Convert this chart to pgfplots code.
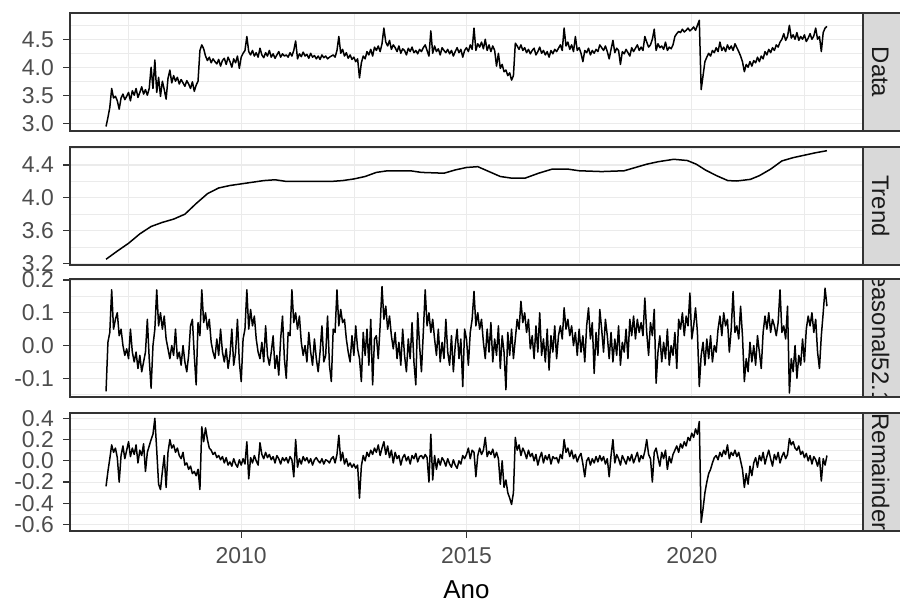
\documentclass[border=0pt]{standalone}
\usepackage{fontspec}
\setmainfont{Liberation Sans}
\usepackage{pgfplots}
\usepackage{pgfplotstable}
\pgfplotsset{compat=1.18}
\definecolor{grey10}{HTML}{1A1A1A}
\definecolor{grey20}{HTML}{333333}
\definecolor{grey30}{HTML}{4D4D4D}
\definecolor{grey85}{HTML}{D9D9D9}
\definecolor{grey92}{HTML}{EBEBEB}

% Data (semi-monthly readings, 2007.0 to 2023.0)
\pgfplotstableread[header=false,row sep=\\]{
2.94\\3.10\\3.28\\3.62\\3.45\\3.48\\3.40\\3.25\\3.45\\3.52\\3.42\\3.48\\3.55\\3.40\\3.58\\3.50\\3.62\\3.46\\3.55\\3.65\\3.52\\3.60\\3.50\\3.62\\%
4.00\\3.62\\4.13\\3.55\\3.82\\3.48\\3.75\\3.60\\3.43\\3.80\\3.95\\3.72\\3.85\\3.75\\3.82\\3.70\\3.78\\3.72\\3.66\\3.76\\3.70\\3.62\\3.74\\3.57\\%
3.68\\3.75\\4.30\\4.40\\4.33\\4.20\\4.12\\4.18\\4.08\\4.15\\4.10\\4.06\\4.14\\4.02\\4.12\\4.16\\4.05\\4.18\\4.10\\4.00\\4.15\\4.08\\4.20\\3.98\\%
4.18\\4.25\\4.30\\4.55\\4.28\\4.22\\4.30\\4.20\\4.26\\4.18\\4.34\\4.22\\4.17\\4.26\\4.20\\4.30\\4.18\\4.24\\4.16\\4.22\\4.28\\4.18\\4.24\\4.20\\%
4.22\\4.18\\4.26\\4.20\\4.30\\4.47\\4.15\\4.24\\4.19\\4.27\\4.20\\4.23\\4.16\\4.25\\4.18\\4.21\\4.15\\4.20\\4.14\\4.22\\4.17\\4.20\\4.15\\4.18\\%
4.20\\4.22\\4.18\\4.30\\4.55\\4.25\\4.32\\4.20\\4.26\\4.16\\4.22\\4.14\\4.18\\4.10\\4.15\\3.81\\4.08\\4.20\\4.15\\4.28\\4.22\\4.32\\4.20\\4.36\\%
4.30\\4.38\\4.28\\4.42\\4.70\\4.45\\4.38\\4.48\\4.32\\4.40\\4.35\\4.28\\4.38\\4.25\\4.33\\4.30\\4.22\\4.34\\4.28\\4.36\\4.26\\4.30\\4.24\\4.32\\%
4.28\\4.35\\4.40\\4.30\\4.20\\4.65\\4.25\\4.38\\4.28\\4.33\\4.22\\4.35\\4.30\\4.26\\4.32\\4.24\\4.30\\4.20\\4.28\\4.35\\4.26\\4.32\\4.18\\4.30\\%
4.35\\4.28\\4.40\\4.32\\4.70\\4.30\\4.42\\4.36\\4.45\\4.33\\4.50\\4.30\\4.40\\4.28\\4.38\\4.30\\4.02\\4.25\\3.98\\4.05\\3.92\\3.95\\3.85\\3.90\\%
3.77\\3.85\\4.43\\4.38\\4.32\\4.40\\4.30\\4.35\\4.26\\4.32\\4.24\\4.30\\4.34\\4.22\\4.28\\4.36\\4.25\\4.30\\4.22\\4.28\\4.18\\4.30\\4.24\\4.32\\%
4.28\\4.34\\4.40\\4.30\\4.70\\4.38\\4.45\\4.32\\4.40\\4.28\\4.55\\4.30\\4.35\\4.25\\4.10\\4.30\\4.26\\4.34\\4.22\\4.30\\4.25\\4.32\\4.28\\4.40\\%
4.35\\4.30\\4.38\\4.28\\4.15\\4.32\\4.48\\4.26\\4.34\\4.30\\4.05\\4.28\\4.24\\4.32\\4.26\\4.20\\4.35\\4.28\\4.34\\4.40\\4.30\\4.36\\4.30\\4.55\\%
4.45\\4.36\\4.40\\4.50\\4.68\\4.30\\4.42\\4.35\\4.38\\4.32\\4.45\\4.30\\4.36\\4.33\\4.40\\4.55\\4.60\\4.64\\4.62\\4.68\\4.63\\4.66\\4.70\\4.65\\%
4.68\\4.72\\4.66\\4.75\\4.84\\3.60\\3.85\\4.10\\4.18\\4.25\\4.20\\4.30\\4.26\\4.35\\4.28\\4.45\\4.30\\4.36\\4.28\\4.40\\4.32\\4.38\\4.30\\4.42\\%
4.35\\4.28\\4.20\\4.10\\3.92\\4.05\\4.00\\4.10\\4.02\\4.12\\4.08\\4.18\\4.10\\4.20\\4.15\\4.28\\4.22\\4.32\\4.26\\4.35\\4.30\\4.40\\4.36\\4.45\\%
4.50\\4.60\\4.48\\4.55\\4.75\\4.52\\4.58\\4.50\\4.62\\4.48\\4.55\\4.50\\4.58\\4.46\\4.52\\4.60\\4.50\\4.56\\4.70\\4.50\\4.55\\4.28\\4.62\\4.70\\%
4.73\\%
}\dataD

% Seasonal52.18
\pgfplotstableread[header=false,row sep=\\]{
-0.14\\0.01\\0.04\\0.17\\0.05\\0.08\\0.10\\0.03\\0.05\\0.00\\-0.03\\-0.01\\-0.04\\0.05\\-0.02\\-0.05\\-0.02\\-0.07\\-0.03\\-0.08\\-0.05\\-0.02\\0.08\\-0.04\\%
-0.13\\0.00\\0.05\\0.17\\0.06\\0.10\\0.05\\0.09\\0.02\\-0.01\\-0.04\\0.00\\-0.03\\0.05\\-0.04\\-0.02\\-0.06\\0.00\\-0.05\\-0.08\\-0.03\\0.06\\0.08\\-0.03\\%
-0.12\\0.07\\0.03\\0.17\\0.07\\0.10\\0.05\\0.08\\0.01\\-0.02\\-0.04\\0.02\\-0.03\\0.05\\-0.02\\-0.05\\-0.01\\-0.07\\-0.03\\0.05\\-0.06\\-0.02\\0.08\\-0.05\\%
-0.11\\0.02\\0.05\\0.17\\0.05\\0.11\\0.06\\0.09\\0.02\\-0.02\\-0.04\\0.01\\-0.05\\0.06\\-0.03\\-0.06\\-0.02\\0.03\\-0.07\\-0.03\\-0.09\\0.02\\0.09\\-0.04\\%
-0.10\\0.04\\0.03\\0.17\\0.07\\0.10\\0.05\\0.09\\0.01\\-0.03\\0.00\\-0.05\\0.04\\-0.02\\-0.06\\0.02\\-0.04\\-0.08\\-0.02\\0.06\\-0.05\\-0.03\\0.09\\-0.06\\%
-0.11\\0.05\\0.04\\0.17\\0.06\\0.11\\0.07\\0.08\\0.02\\-0.02\\-0.05\\0.03\\-0.03\\0.06\\-0.01\\-0.04\\-0.11\\0.04\\-0.03\\0.05\\-0.06\\0.08\\-0.12\\0.02\\%
0.03\\-0.04\\0.06\\0.18\\0.08\\0.12\\0.05\\0.09\\0.03\\-0.01\\0.04\\-0.04\\0.01\\-0.06\\0.05\\-0.03\\-0.08\\0.02\\-0.04\\0.07\\-0.05\\-0.12\\0.10\\0.00\\%
-0.08\\0.04\\0.17\\0.06\\0.10\\0.04\\0.08\\0.02\\-0.03\\0.05\\-0.05\\0.01\\-0.04\\0.08\\-0.02\\-0.06\\0.03\\-0.08\\0.00\\0.05\\-0.04\\0.02\\-0.125\\0.05\\%
0.02\\-0.06\\0.04\\0.08\\0.165\\0.06\\0.10\\0.05\\0.08\\0.01\\-0.04\\0.05\\-0.02\\0.07\\-0.05\\0.02\\-0.03\\0.06\\-0.07\\0.03\\-0.02\\-0.135\\0.04\\-0.03\\%
0.05\\-0.04\\0.02\\0.08\\0.05\\0.135\\0.07\\0.10\\0.04\\0.08\\-0.01\\0.03\\-0.04\\0.06\\-0.02\\0.10\\-0.03\\0.02\\-0.05\\0.05\\-0.075\\0.03\\-0.02\\0.06\\%
-0.04\\0.03\\0.06\\0.02\\0.115\\0.05\\0.08\\0.03\\0.06\\0.00\\0.04\\-0.03\\0.05\\-0.02\\0.03\\-0.05\\0.06\\0.115\\0.02\\0.07\\-0.085\\0.04\\-0.03\\0.11\\%
0.05\\-0.02\\0.08\\0.03\\-0.04\\0.04\\-0.05\\0.02\\-0.03\\0.06\\-0.06\\0.01\\-0.02\\0.05\\-0.04\\0.08\\0.03\\0.09\\0.02\\0.08\\0.04\\0.07\\0.03\\0.145\\%
0.04\\-0.03\\0.07\\0.03\\0.11\\-0.115\\-0.02\\0.03\\-0.05\\0.01\\-0.04\\0.05\\-0.06\\0.00\\-0.03\\0.04\\-0.07\\0.08\\0.05\\0.10\\0.03\\0.09\\0.06\\0.16\\%
0.02\\0.06\\0.115\\0.04\\-0.125\\-0.03\\0.01\\-0.06\\0.02\\-0.04\\0.03\\-0.05\\0.00\\-0.02\\0.05\\0.09\\0.03\\0.10\\0.06\\0.08\\-0.02\\0.05\\0.165\\0.04\\%
0.06\\0.02\\0.12\\0.03\\-0.11\\-0.04\\-0.08\\0.01\\-0.05\\0.00\\-0.06\\0.03\\-0.02\\-0.07\\0.04\\0.09\\0.05\\0.10\\0.04\\0.08\\0.06\\0.03\\0.07\\0.17\\%
0.04\\0.06\\0.02\\0.12\\-0.145\\-0.04\\-0.08\\0.00\\-0.10\\-0.03\\-0.06\\0.02\\-0.05\\0.05\\0.09\\0.06\\0.10\\0.04\\0.08\\-0.02\\-0.07\\0.03\\0.10\\0.175\\%
0.12\\%
}\dataS

% Remainder
\pgfplotstableread[header=false,row sep=\\]{
-0.24\\-0.10\\0.02\\0.15\\0.08\\0.12\\0.03\\-0.20\\0.05\\0.14\\0.02\\0.10\\0.18\\0.04\\0.12\\0.06\\0.15\\-0.02\\0.10\\0.05\\0.16\\-0.10\\0.08\\0.14\\%
0.20\\0.25\\0.40\\0.10\\-0.22\\-0.27\\-0.10\\0.05\\-0.25\\0.08\\0.20\\0.12\\0.15\\0.08\\0.12\\0.05\\0.02\\0.08\\-0.04\\-0.02\\-0.08\\-0.05\\-0.12\\-0.10\\%
-0.14\\-0.08\\-0.27\\0.32\\0.18\\0.31\\0.20\\0.12\\0.10\\0.06\\0.08\\0.03\\0.05\\0.01\\0.04\\-0.02\\0.03\\-0.04\\-0.01\\-0.05\\0.02\\-0.03\\-0.06\\0.01\\%
-0.04\\0.02\\-0.03\\0.18\\-0.17\\0.03\\-0.02\\0.05\\0.00\\-0.04\\0.17\\0.06\\0.02\\0.08\\0.03\\0.06\\0.01\\0.04\\-0.02\\0.05\\0.02\\-0.03\\0.03\\0.00\\%
0.03\\-0.02\\0.04\\0.01\\-0.15\\0.20\\-0.06\\0.02\\-0.03\\0.04\\0.00\\0.03\\-0.02\\0.02\\-0.04\\0.01\\0.03\\0.00\\-0.02\\0.02\\-0.03\\0.01\\0.00\\-0.02\\%
0.02\\0.04\\-0.02\\0.06\\0.24\\0.00\\0.08\\-0.03\\0.02\\-0.05\\-0.02\\-0.06\\-0.03\\-0.07\\-0.04\\-0.35\\-0.05\\0.05\\0.00\\0.08\\0.04\\0.10\\0.06\\0.12\\%
0.08\\0.15\\0.05\\0.12\\0.18\\0.06\\0.14\\0.03\\0.10\\-0.02\\0.08\\0.02\\0.05\\-0.04\\0.03\\0.06\\0.00\\0.04\\-0.03\\0.05\\0.02\\0.07\\-0.01\\0.04\\%
0.05\\0.02\\0.06\\0.03\\-0.20\\0.25\\-0.18\\0.05\\-0.08\\0.02\\-0.04\\0.03\\0.00\\-0.05\\0.02\\-0.03\\-0.06\\0.01\\-0.04\\-0.07\\0.00\\-0.03\\0.05\\0.02\\%
0.06\\0.12\\0.02\\0.10\\0.08\\-0.15\\0.05\\0.12\\0.06\\0.10\\0.22\\0.04\\0.09\\0.06\\0.11\\0.03\\0.08\\0.02\\-0.22\\0.00\\-0.25\\-0.18\\-0.30\\-0.35\\%
-0.41\\-0.30\\0.22\\0.10\\0.15\\0.05\\0.12\\0.08\\0.02\\0.10\\0.04\\0.07\\0.00\\0.06\\-0.04\\0.03\\0.08\\-0.02\\0.05\\0.01\\0.06\\-0.03\\0.04\\0.02\\%
0.03\\-0.02\\0.06\\0.02\\0.20\\0.08\\0.12\\0.04\\0.10\\0.02\\0.06\\-0.01\\0.04\\0.07\\-0.03\\-0.15\\0.00\\0.03\\-0.04\\0.02\\-0.02\\0.04\\-0.01\\0.05\\%
0.00\\0.04\\-0.03\\0.02\\-0.15\\0.05\\0.20\\-0.02\\0.06\\0.02\\-0.04\\0.05\\0.01\\-0.03\\0.04\\0.00\\0.06\\-0.02\\0.03\\0.08\\-0.01\\0.05\\0.02\\0.09\\%
0.20\\0.06\\0.02\\-0.20\\0.08\\0.12\\0.03\\-0.05\\0.08\\0.02\\0.10\\-0.08\\0.04\\-0.02\\0.06\\0.10\\0.14\\0.08\\0.16\\0.12\\0.18\\0.14\\0.22\\0.19\\%
0.26\\0.22\\0.30\\0.25\\0.37\\-0.58\\-0.45\\-0.30\\-0.20\\-0.12\\-0.08\\-0.02\\0.03\\0.05\\0.01\\0.08\\0.04\\0.10\\0.06\\0.15\\0.02\\0.08\\0.05\\0.10\\%
0.04\\0.08\\0.00\\-0.08\\-0.25\\-0.12\\-0.22\\-0.05\\-0.14\\-0.02\\0.03\\-0.06\\0.05\\0.00\\0.08\\-0.03\\0.04\\0.10\\0.02\\-0.05\\0.06\\0.01\\0.08\\-0.02\\%
0.04\\0.08\\0.02\\0.06\\0.21\\0.15\\0.18\\0.12\\0.10\\0.14\\0.06\\0.09\\0.03\\0.07\\0.00\\0.05\\-0.03\\0.04\\0.01\\-0.05\\0.03\\-0.19\\0.02\\-0.04\\%
0.05\\%
}\dataR

\pgfplotsset{
  panel/.style={
    scale only axis, width=793bp, height=118bp, anchor=south west,
    xmin=2006.2, xmax=2023.8,
    xtick={2010,2015,2020}, minor xtick={2007.5,2012.5,2017.5,2022.5},
    xmajorgrids=true, xminorgrids=true, ymajorgrids=true, yminorgrids=true,
    major grid style={draw=grey92, line width=1.1bp},
    minor grid style={draw=grey92, line width=0.55bp},
    axis line style={draw=grey20, line width=1.2bp},
    tick align=outside, tick pos=left,
    major tick length=7bp, minor tick length=0pt,
    major tick style={draw=grey20, line width=1.2bp},
    minor tick style={draw=none},
    ticklabel style={font=\fontsize{23}{26}\selectfont, text=grey30, inner sep=0pt},
    yticklabel style={anchor=east, xshift=-9bp},
    xticklabel style={anchor=north, yshift=-9bp},
    every axis plot post/.append style={black, line width=1.5bp, mark=none, line join=round},
  },
  toppanel/.style={panel, xticklabels={}, xmajorticks=false},
}

\newcommand\strip[4]{%
  \begin{scope}
    \clip (863bp,#1bp) rectangle (900bp,#2bp);
    \fill[grey85] (863bp,#1bp) rectangle (900bp,#2bp);
    \node[rotate=-90, anchor=base, inner sep=0pt, text=grey10, font=\fontsize{24}{28}\selectfont] at (872bp,#3bp) {#4};
  \end{scope}
  \draw[grey20, line width=1.2bp] (906bp,#1bp) -- (863bp,#1bp) -- (863bp,#2bp) -- (906bp,#2bp);
}

\begin{document}
\begin{tikzpicture}
\useasboundingbox (0,0) rectangle (900bp,603bp);

\begin{axis}[toppanel, at={(70bp,472bp)},
  ymin=2.86, ymax=4.97, ytick={3,3.5,4,4.5}, yticklabels={3.0,3.5,4.0,4.5},
  minor ytick={3.25,3.75,4.25,4.75}]
\addplot table[x expr=2007+\coordindex/24, y index=0] {\dataD};
\end{axis}

\begin{axis}[toppanel, at={(70bp,338bp)},
  ymin=3.18, ymax=4.62, ytick={3.2,3.6,4.0,4.4}, yticklabels={3.2,3.6,4.0,4.4},
  minor ytick={3.4,3.8,4.2,4.6}]
\addplot coordinates {(2007.0,3.25) (2007.25,3.35) (2007.5,3.445) (2007.75,3.56)
 (2008.0,3.65) (2008.25,3.70) (2008.5,3.74) (2008.75,3.80) (2009.0,3.93)
 (2009.25,4.05) (2009.5,4.12) (2009.75,4.15) (2010.0,4.17) (2010.25,4.19)
 (2010.5,4.21) (2010.75,4.22) (2011.0,4.20) (2011.5,4.20) (2012.0,4.20)
 (2012.25,4.21) (2012.5,4.23) (2012.75,4.26) (2013.0,4.31) (2013.25,4.33)
 (2013.75,4.33) (2014.0,4.31) (2014.5,4.30) (2014.75,4.34) (2015.0,4.37)
 (2015.25,4.38) (2015.5,4.32) (2015.75,4.26) (2016.0,4.24) (2016.3,4.24)
 (2016.6,4.30) (2016.9,4.35) (2017.25,4.35) (2017.5,4.33) (2018.0,4.32)
 (2018.5,4.33) (2018.75,4.37) (2019.0,4.41) (2019.25,4.44) (2019.6,4.47)
 (2019.9,4.455) (2020.1,4.41) (2020.3,4.34) (2020.55,4.27) (2020.8,4.21)
 (2021.0,4.205) (2021.3,4.225) (2021.5,4.27) (2021.75,4.35) (2022.0,4.45)
 (2022.25,4.49) (2022.5,4.52) (2022.75,4.55) (2023.0,4.575)};
\end{axis}

\begin{axis}[toppanel, at={(70bp,206bp)},
  ymin=-0.157, ymax=0.203, ytick={-0.1,0,0.1,0.2}, yticklabels={-0.1,0.0,0.1,0.2},
  minor ytick={-0.15,-0.05,0.05,0.15}]
\addplot table[x expr=2007+\coordindex/24, y index=0] {\dataS};
\end{axis}

\begin{axis}[panel, at={(70bp,72bp)},
  xticklabels={2010,2015,2020},
  ymin=-0.66, ymax=0.45, ytick={-0.6,-0.4,-0.2,0,0.2,0.4},
  yticklabels={-0.6,-0.4,-0.2,0.0,0.2,0.4},
  minor ytick={-0.5,-0.3,-0.1,0.1,0.3}]
\addplot table[x expr=2007+\coordindex/24, y index=0] {\dataR};
\end{axis}

\strip{472}{590}{531}{Data}
\strip{338}{456}{397}{Trend}
\strip{206}{324}{265}{Seasonal52.18}
\strip{72}{190}{131}{Remainder}

\node[anchor=base, font=\fontsize{26}{30}\selectfont] at (466.5bp,5bp) {Ano};
\end{tikzpicture}
\end{document}
